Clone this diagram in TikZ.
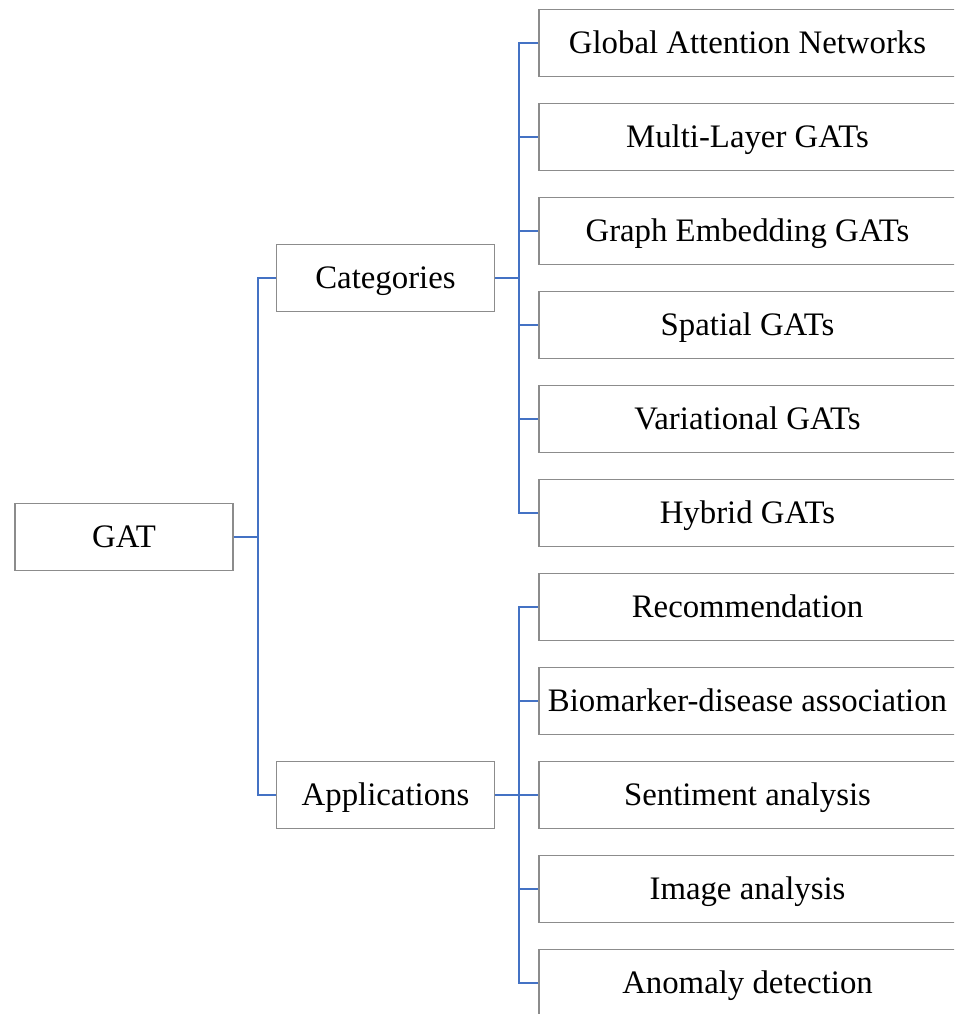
\documentclass[tikz,border=0pt]{standalone}
\usepackage{fontspec}
\setmainfont{Liberation Serif}
\usetikzlibrary{positioning}
\definecolor{linkblue}{HTML}{4472C4}
\definecolor{boxgray}{HTML}{8C8C8C}

\begin{document}
\begin{tikzpicture}[x=0.03cm, y=-0.03cm, every node/.style={rectangle, draw=boxgray, line width=1pt, font=\fontsize{28}{32}\selectfont, inner sep=0pt, text height=19.6pt, text depth=1.7pt}, mid/.style={minimum width=6.54cm, minimum height=2.01cm}, leaf/.style={minimum width=12.51cm, minimum height=2.01cm}, link/.style={draw=linkblue, line width=1.6pt}]
\clip (0,0) rectangle (954,1014);
\node[mid] (gat) at (124,537) {GAT};
\node[mid] (cat) at (385.5,278) {Categories};
\node[mid] (app) at (385.5,795) {Applications};
\node[leaf] (c1) at (747.5,43) {Global Attention Networks};
\node[leaf] (c2) at (747.5,137) {Multi-Layer GATs};
\node[leaf] (c3) at (747.5,231) {Graph Embedding GATs};
\node[leaf] (c4) at (747.5,325) {Spatial GATs};
\node[leaf] (c5) at (747.5,419) {Variational GATs};
\node[leaf] (c6) at (747.5,513) {Hybrid GATs};
\node[leaf] (a1) at (747.5,607) {Recommendation};
\node[leaf] (a2) at (747.5,701) {Biomarker-disease association};
\node[leaf] (a3) at (747.5,795) {Sentiment analysis};
\node[leaf] (a4) at (747.5,889) {Image analysis};
\node[leaf] (a5) at (747.5,983) {Anomaly detection};
\draw[link] (gat.east) -- ++(24,0) |- (cat.west);
\draw[link] (gat.east) -- ++(24,0) |- (app.west);
\draw[link] (cat.east) -- ++(24,0) |- (c1.west);
\draw[link] (cat.east) -- ++(24,0) |- (c2.west);
\draw[link] (cat.east) -- ++(24,0) |- (c3.west);
\draw[link] (cat.east) -- ++(24,0) |- (c4.west);
\draw[link] (cat.east) -- ++(24,0) |- (c5.west);
\draw[link] (cat.east) -- ++(24,0) |- (c6.west);
\draw[link] (app.east) -- ++(24,0) |- (a1.west);
\draw[link] (app.east) -- ++(24,0) |- (a2.west);
\draw[link] (app.east) -- ++(24,0) |- (a3.west);
\draw[link] (app.east) -- ++(24,0) |- (a4.west);
\draw[link] (app.east) -- ++(24,0) |- (a5.west);
\end{tikzpicture}
\end{document}
